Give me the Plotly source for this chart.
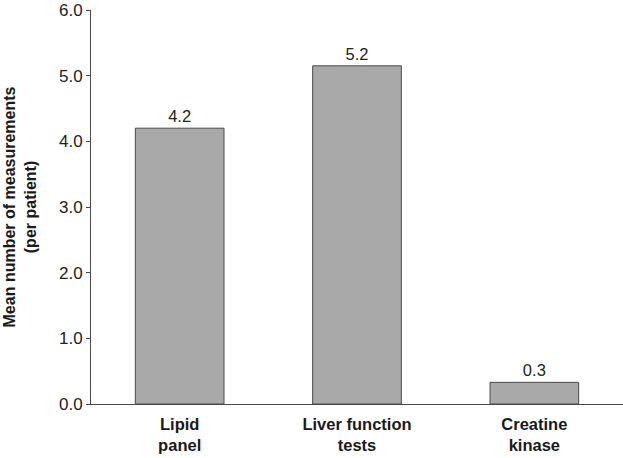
import plotly.graph_objects as go

categories = ["<b>Lipid</b><br><b>panel</b>", "<b>Liver function</b><br><b>tests</b>", "<b>Creatine</b><br><b>kinase</b>"]
values = [4.2, 5.15, 0.33]
value_labels = ["4.2", "5.2", "0.3"]
y_ticks = [0, 1, 2, 3, 4, 5, 6]
y_tick_labels = ["0.0", "1.0", "2.0", "3.0", "4.0", "5.0", "6.0"]

fig = go.Figure(go.Bar(
    x=categories,
    y=values,
    text=value_labels,
    textposition="outside",
    textfont=dict(family="Liberation Sans, Arial, sans-serif", size=16.5, color="#222"),
    marker=dict(color="#a9a9a9", line=dict(color="#4a4a4a", width=1)),
    width=0.5,
    cliponaxis=False,
))

fig.update_layout(
    width=623, height=458,
    margin=dict(l=91, r=0, t=10, b=54, autoexpand=False),
    paper_bgcolor="white", plot_bgcolor="white",
    font=dict(family="Liberation Sans, Arial, sans-serif", color="#222"),
    showlegend=False,
)
fig.update_xaxes(
    range=[-0.5, 2.5], automargin=False,
    showline=True, linecolor="#4a4a4a", linewidth=1,
    ticks="", showgrid=False, ticklabelstandoff=5,
    tickfont=dict(size=16.5, color="#1a1a1a"),
)
fig.update_yaxes(
    range=[0, 6], automargin=False,
    tickvals=y_ticks, ticktext=y_tick_labels,
    showline=True, linecolor="#4a4a4a", linewidth=1,
    ticks="outside", ticklen=4, tickcolor="#4a4a4a",
    showgrid=False, zeroline=False,
    tickfont=dict(size=17, color="#222"),
    title=dict(text="<b>Mean number of measurements</b><br><b>(per patient)</b>",
               font=dict(size=16, color="#1a1a1a"), standoff=18),
)

fig.write_html("out.html", config={"displayModeBar": False},
               post_script="document.body.style.margin='0';")
